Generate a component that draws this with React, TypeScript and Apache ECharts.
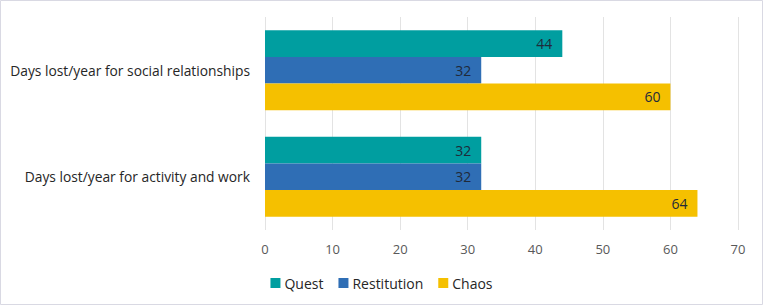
import React, { useEffect, useRef } from "react";
import * as echarts from "echarts";

const categories = [
  "Days lost/year for social relationships",
  "Days lost/year for activity and work",
];
const seriesNames = ["Quest", "Restitution", "Chaos"];
const questValues = [44, 32];
const restitutionValues = [32, 32];
const chaosValues = [60, 64];
const xTicks = [0, 10, 20, 30, 40, 50, 60, 70];

const colors = ["#009EA0", "#2F6EB5", "#F5C000"];
const FONT = "'Open Sans', Lato, sans-serif";

export default function App() {
  const ref = useRef<HTMLDivElement>(null);
  useEffect(() => {
    if (!ref.current) return;
    const chart = echarts.init(ref.current, undefined, { renderer: "svg" });
    const values = [questValues, restitutionValues, chaosValues];
    chart.setOption({
      animation: false,
      backgroundColor: "#ffffff",
      textStyle: { fontFamily: FONT },
      grid: { left: 265, right: 25, top: 17, bottom: 75, containLabel: false },
      legend: {
        data: seriesNames,
        left: "center",
        top: 271,
        itemWidth: 10,
        itemHeight: 10,
        itemGap: 15,
        icon: "rect",
        textStyle: { fontSize: 14, color: "#262626", fontFamily: FONT, padding: [0, 0, 0, -1] },
      },
      xAxis: {
        type: "value",
        min: xTicks[0],
        max: xTicks[xTicks.length - 1],
        interval: 10,
        axisLine: { show: false },
        axisTick: { show: false },
        splitLine: { show: true, lineStyle: { color: "#E3E3E3", width: 1 } },
        axisLabel: { color: "#595959", fontSize: 13, margin: 12, fontFamily: FONT },
      },
      yAxis: {
        type: "category",
        data: categories,
        inverse: true,
        axisLine: { show: false },
        axisTick: { show: false },
        axisLabel: { color: "#262626", fontSize: 13.8, margin: 15, fontFamily: FONT },
      },
      series: seriesNames.map((name, i) => ({
        name,
        type: "bar",
        data: values[i],
        barGap: "0%",
        barCategoryGap: "25%",
        itemStyle: { color: colors[i] },
        label: {
          show: true,
          position: "insideRight",
          distance: 10,
          color: "#1F2A3A",
          fontSize: 14,
          fontFamily: FONT,
        },
      })),
      graphic: [
        {
          type: "rect",
          shape: { x: 0.5, y: 0.5, width: 762, height: 304 },
          style: { fill: "none", stroke: "#D9D9E3", lineWidth: 1 },
          silent: true,
        },
      ],
    });
    return () => chart.dispose();
  }, []);
  return (
    <div
      ref={ref}
      style={{ position: "fixed", left: 0, top: 0, width: 763, height: 305 }}
    />
  );
}
